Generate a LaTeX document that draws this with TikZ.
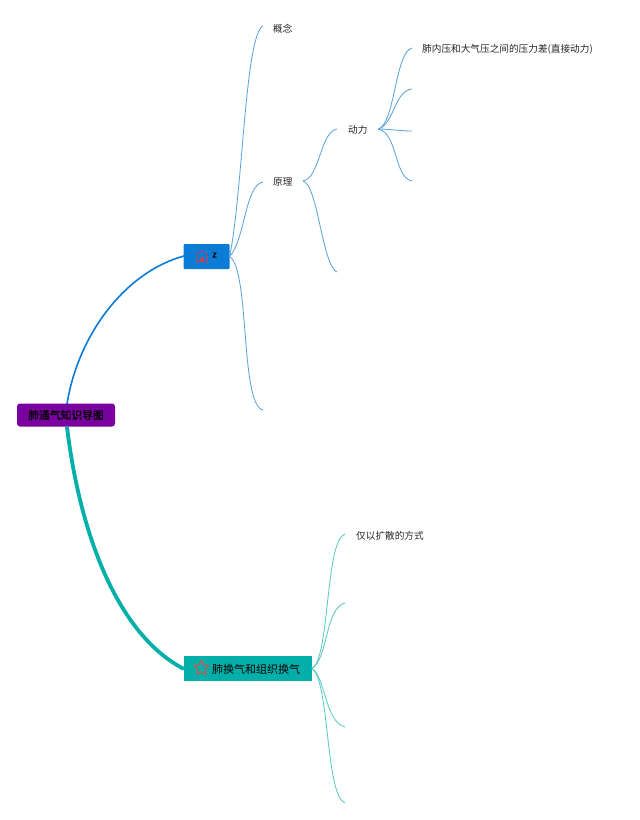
\documentclass[tikz,border=0pt]{standalone}
\usepackage{fontspec}
\setmainfont{Noto Sans CJK SC}
\newfontfamily\rootf[FakeBold=1.2]{Noto Sans CJK SC}
\definecolor{rootc}{HTML}{7B00A0}
\definecolor{bluec}{HTML}{0A7CD6}
\definecolor{tealc}{HTML}{04AFAA}
\definecolor{thinblue}{HTML}{5AA5DC}
\definecolor{thinteal}{HTML}{5CC8C2}
\definecolor{iconred}{HTML}{C8405A}
\definecolor{starc}{HTML}{B0625A}
\tikzset{
  box/.style={inner sep=0pt,anchor=center,text=black},
  leaf/.style={inner sep=0pt,anchor=west,font=\fontsize{9.65}{12}\selectfont,text=black!85},
  bl/.style={draw=thinblue,line width=.85pt},
  tl/.style={draw=thinteal,line width=.85pt},
}
\begin{document}
\begin{tikzpicture}[x=1pt,y=-1pt]
\useasboundingbox (0,0) rectangle (640,820);
% main branches
\coordinate (rootT) at (67,404);
\coordinate (rootB) at (67,427);
\coordinate (aL) at (184,256);
\coordinate (bL) at (184,669);
\draw[bluec,line width=1.6pt] (rootT) .. controls (78,335) and (125,272) .. (aL);
\draw[tealc,line width=3.8pt] (rootB) .. controls (80,535) and (118,635) .. (bL);
% nodes
\node[box,minimum width=98pt,minimum height=23pt,rounded corners=3pt,fill=rootc,font=\rootf\fontsize{10.8}{13}\selectfont] (root) at (66,415) {肺通气知识导图};
\node[minimum width=46pt,minimum height=25pt,inner sep=0pt,rounded corners=1pt,fill=bluec] (a) at (206.5,256.5) {};
\node[minimum width=128pt,minimum height=25pt,inner sep=0pt,fill=tealc] (b) at (247.5,668.5) {};
\node[box,font=\rootf\fontsize{9}{10}\selectfont] (az) at (214.5,255) {z};
\node[box,font=\fontsize{11}{13}\selectfont] (bt) at (256,669) {肺换气和组织换气};
% icons
\draw[iconred,line width=.8pt] (196.5,263) -- (196.5,257) .. controls (196.5,249.5) and (207.5,249.5) .. (207.5,257) -- (207.5,263);
\fill[iconred] (202,256) -- (205.5,262) -- (198.5,262) -- cycle;
\draw[starc,line width=1.3pt,line join=round]
  (201.5,660) -- (199.27,664.93) -- (193.89,665.53) -- (197.89,669.17) -- (196.8,674.47) -- (201.5,671.8) -- (206.2,674.47) -- (205.11,669.17) -- (209.11,665.53) -- (203.73,664.93) -- cycle;
% leaves
\node[leaf] (gn) at (273,28.5) {概念};
\node[leaf] (yl) at (273,182) {原理};
\node[leaf] (dl) at (348,130) {动力};
\node[leaf] (fn) at (422,49) {肺内压和大气压之间的压力差(直接动力)};
\node[leaf] (ky) at (356,535.5) {仅以扩散的方式};
% free ends
\coordinate (a1) at (263,26);
\coordinate (a2) at (263,182);
\coordinate (a3) at (263,410);
\coordinate (y2) at (337,272);
\coordinate (y1) at (337,129);
\coordinate (ystart) at (303,181);
\coordinate (dstart) at (378,129);
\coordinate (d1) at (412,48);
\coordinate (d2) at (412,89);
\coordinate (d3) at (412,131);
\coordinate (d4) at (412,181);
\coordinate (b1) at (345,534);
\coordinate (b2) at (345,603);
\coordinate (b3) at (345,727);
\coordinate (b4) at (345,803);
\coordinate (as) at (a.east);
\coordinate (bs) at (b.east);
% blue thin
\draw[bl] (as) .. controls (243,190) and (245,35) .. (a1);
\draw[bl] (as) .. controls (245,240) and (245,185) .. (a2);
\draw[bl] (as) .. controls (250,270) and (240,405) .. (a3);
\draw[bl] (ystart) .. controls (320,178) and (320,132) .. (y1);
\draw[bl] (ystart) .. controls (318,185) and (322,265) .. (y2);
\draw[bl] (dstart) .. controls (395,125) and (395,52) .. (d1);
\draw[bl] (dstart) .. controls (394,125) and (394,91) .. (d2);
\draw[bl] (dstart) .. controls (390,129) and (400,131) .. (d3);
\draw[bl] (dstart) .. controls (398,133) and (394,178) .. (d4);
% teal thin
\draw[tl] (bs) .. controls (330,660) and (325,540) .. (b1);
\draw[tl] (bs) .. controls (328,660) and (325,608) .. (b2);
\draw[tl] (bs) .. controls (325,675) and (325,722) .. (b3);
\draw[tl] (bs) .. controls (330,680) and (325,795) .. (b4);
\end{tikzpicture}
\end{document}
